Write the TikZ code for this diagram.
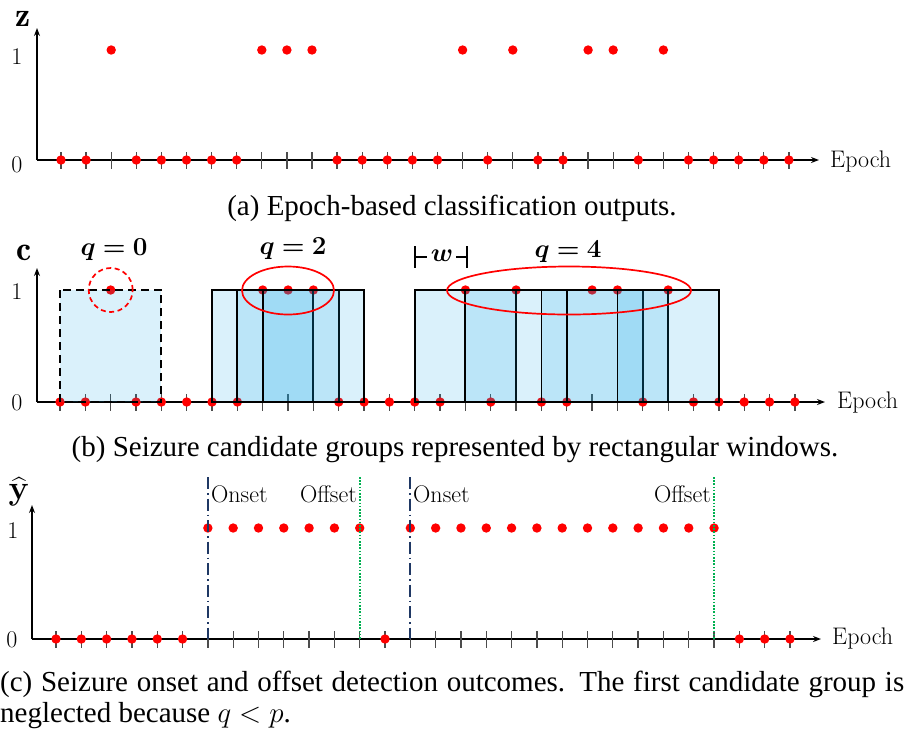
\RequirePackage{fix-cm}
\documentclass[tikz,border=0pt]{standalone}
\usepackage{fontspec}
\usepackage{amsmath,bm}
\usetikzlibrary{arrows.meta}
\newfontfamily\capfontfam{Liberation Serif}
\newcommand\axfont{\fontsize{24}{28}\selectfont}
\newcommand\bigaxfont{\fontsize{34}{38}\selectfont}
\newcommand\qlblfont{\fontsize{26}{30}\selectfont}
\newcommand\capfnt{\capfontfam\fontsize{29}{31}\selectfont}
\definecolor{dotred}{RGB}{255,0,0}
\definecolor{winblue}{RGB}{8,162,228}
\definecolor{onsetblue}{RGB}{31,56,100}
\definecolor{offgreen}{RGB}{0,176,80}
\begin{document}
\begin{tikzpicture}[x=1pt,y=-1pt,
  axisline/.style={line width=1.8pt,-{Stealth[length=8pt,width=6pt]}},
  tickmark/.style={draw=black!70,line width=1.3pt},
  win/.style={fill=winblue,fill opacity=0.15,draw=black,line width=1.9pt},
  ring/.style={draw=red,line width=1.7pt},
  onsetline/.style={draw=onsetblue,line width=1.8pt,dash pattern=on 12pt off 4pt on 1.5pt off 4pt},
  offsetline/.style={draw=offgreen,line width=1.8pt,dash pattern=on 1.6pt off 1.6pt},
  axlabel/.style={font=\axfont,inner sep=0pt},
  varlabel/.style={font=\bigaxfont,inner sep=0pt},
  qlabel/.style={font=\qlblfont,inner sep=0pt},
  caplabel/.style={font=\capfnt,inner sep=0pt},
  wbar/.style={line width=1.8pt}]
\useasboundingbox (0,0) rectangle (904,740);

% ---------- panel (a) ----------
\coordinate (oa) at (37,160);
\coordinate (ya) at (37,28);
\coordinate (xa) at (819,160);
\draw[axisline] (oa) -- (ya);
\draw[axisline] (oa) -- (xa);
\foreach \v [count=\i from 0] in {0,0,1,0,0,0,0,0,1,1,1,0,0,0,0,0,1,0,1,0,0,1,1,0,1,0,0,0,0,0}{
  \pgfmathsetmacro\xx{61+25.1*\i}
  \draw[tickmark] (\xx,152) -- (\xx,169);
  \fill[dotred] (\xx,{160-110*\v}) circle (4.7pt);
}
\node[varlabel] (za) at (23,19) {$\mathbf{z}$};
\node[axlabel] (a1) at (17,57) {1};
\node[axlabel] (a0) at (17,165) {0};
\node[axlabel,anchor=base west] (ea) at (830,167) {Epoch};
\node[caplabel,anchor=base] (capa) at (452,215) {(a) Epoch-based classification outputs.};

% ---------- panel (b) ----------
\coordinate (ob) at (37,402);
\coordinate (yb) at (37,268);
\coordinate (xb) at (825,402);
\draw[axisline] (ob) -- (yb);
\draw[axisline] (ob) -- (xb);
\foreach \v [count=\i from 0] in {0,0,1,0,0,0,0,0,1,1,1,0,0,0,0,0,1,0,1,0,0,1,1,0,1,0,0,0,0,0}{
  \pgfmathsetmacro\xx{60+25.34*\i}
  \draw[tickmark] (\xx,394) -- (\xx,411);
  \fill[dotred] (\xx,{402-112*\v}) circle (4.7pt);
}
\draw[win,dash pattern=on 8pt off 5pt] ({60+25.34*0},290) rectangle ({60+25.34*4},402);
\foreach \c in {8,9,10}{
  \draw[win] ({60+25.34*(\c-2)},290) rectangle ({60+25.34*(\c+2)},402);
}
\foreach \c in {16,18,21,22,24}{
  \draw[win] ({60+25.34*(\c-2)},290) rectangle ({60+25.34*(\c+2)},402);
}
\draw[ring,dash pattern=on 5pt off 3.5pt] (110.7,290) circle (22pt);
\draw[ring] (288,290.5) ellipse [x radius=46pt,y radius=24pt];
\draw[ring] (569,290.5) ellipse [x radius=122pt,y radius=24pt];
\node[varlabel] (cb) at (24,253) {$\mathbf{c}$};
\node[axlabel] (b1) at (17,292) {1};
\node[axlabel] (b0) at (17,403) {0};
\node[axlabel,anchor=base west] (eb) at (837,408) {Epoch};
\node[qlabel,anchor=base] (qzero) at (114,255) {$\bm{q=0}$};
\node[qlabel,anchor=base] (qtwo) at (293,254) {$\bm{q=2}$};
\node[qlabel,anchor=base] (qfour) at (568,257) {$\bm{q=4}$};
\node[qlabel] (wl) at (442,256) {$\bm{w}$};
\coordinate (wl1) at (415,246);
\coordinate (wl2) at (415,268);
\coordinate (wr1) at (467,246);
\coordinate (wr2) at (467,268);
\coordinate (wl3) at (415,257);
\coordinate (wl4) at (427,257);
\coordinate (wr3) at (456,257);
\coordinate (wr4) at (467,257);
\draw[wbar] (wl1) -- (wl2);
\draw[wbar] (wr1) -- (wr2);
\draw[wbar] (wl3) -- (wl4);
\draw[wbar] (wr3) -- (wr4);
\node[caplabel,anchor=base] (capb) at (455,456) {(b) Seizure candidate groups represented by rectangular windows.};

% ---------- panel (c) ----------
\coordinate (oc) at (32,639);
\coordinate (yc) at (32,505);
\coordinate (xc) at (821,639);
\draw[axisline] (oc) -- (yc);
\draw[axisline] (oc) -- (xc);
\foreach \v [count=\i from 0] in {0,0,0,0,0,0,1,1,1,1,1,1,1,0,1,1,1,1,1,1,1,1,1,1,1,1,1,0,0,0}{
  \pgfmathsetmacro\xx{56+25.31*\i}
  \draw[tickmark] (\xx,631) -- (\xx,648);
  \fill[dotred] (\xx,{639-111*\v}) circle (4.7pt);
}
\coordinate (on1t) at ({56+25.31*6},477);
\coordinate (on1b) at ({56+25.31*6},639);
\coordinate (of1t) at ({56+25.31*12},477);
\coordinate (of1b) at ({56+25.31*12},639);
\coordinate (on2t) at ({56+25.31*14},477);
\coordinate (on2b) at ({56+25.31*14},639);
\coordinate (of2t) at ({56+25.31*26},477);
\coordinate (of2b) at ({56+25.31*26},639);
\draw[onsetline] (on1t) -- (on1b);
\draw[onsetline] (on2t) -- (on2b);
\draw[offsetline] (of1t) -- (of1b);
\draw[offsetline] (of2t) -- (of2b);
\node[axlabel,anchor=base west] (ons1) at (211,502) {Onset};
\node[axlabel,anchor=base east] (off1) at (357,502) {Offset};
\node[axlabel,anchor=base west] (ons2) at (413,502) {Onset};
\node[axlabel,anchor=base east] (off2) at (711,502) {Offset};
\node[varlabel] (yh) at (19,492) {$\bm{\widehat{\mathbf{y}}}$};
\node[axlabel] (c1) at (13,531) {1};
\node[axlabel] (c0) at (12,640) {0};
\node[axlabel,anchor=base west] (ec) at (832,644) {Epoch};
\node[caplabel,anchor=base west] (capc) at (0,691) {\parbox[t]{904pt}{(c) Seizure onset and offset detection outcomes. The first candidate group is\linebreak neglected because $q<p$.}};
\end{tikzpicture}
\end{document}
